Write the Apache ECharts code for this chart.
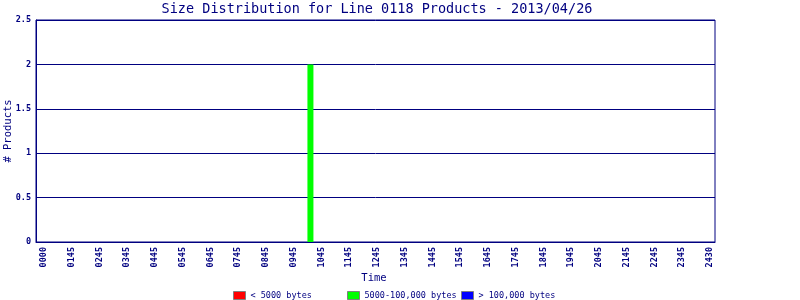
<!DOCTYPE html>
<html><head><meta charset="utf-8">
<script src="https://cdn.jsdelivr.net/npm/echarts@6/dist/echarts.min.js"></script>
<style>html,body{margin:0;padding:0;background:#fff}#c{width:800px;height:300px}</style>
</head><body><div id="c"></div>
<script>
const titleText = 'Size Distribution for Line 0118 Products - 2013/04/26';
const xAxisName = 'Time';
const yAxisName = '# Products';
const timeLabels = ['0000','0145','0245','0345','0445','0545','0645','0745','0845','0945','1045','1145','1245','1345','1445','1545','1645','1745','1845','1945','2045','2145','2245','2345','2430'];
const seriesNames = ['< 5000 bytes', '5000-100,000 bytes', '> 100,000 bytes'];
const barSlots = [9.6];
const smallCounts = [0];
const mediumCounts = [2];
const largeCounts = [0];
const yMax = 2.5;
const yStep = 0.5;

const NAVY = '#000080';
const MONO = 'DejaVu Sans Mono';
const colors = ['#ff0000', '#00ff00', '#0000ff'];
const counts = [smallCounts, mediumCounts, largeCounts];

const chart = echarts.init(document.getElementById('c'), null, {renderer: 'canvas'});
chart.setOption({
  animation: false,
  backgroundColor: '#fff',
  title: {
    text: titleText, left: 377, textAlign: 'center', top: 2, padding: 0,
    textStyle: {color: NAVY, fontFamily: MONO, fontSize: 13.5, fontWeight: 'normal'}
  },
  legend: seriesNames.map((n, i) => ({
    data: [n], left: 233 + 114 * i, top: 291, itemWidth: 12, itemHeight: 8, itemGap: 0,
    padding: 0, icon: 'rect',
    textStyle: {color: NAVY, fontFamily: MONO, fontSize: 8.5},
    itemStyle: {borderColor: '#808080', borderWidth: 1}
  })),
  graphic: [
    {type: 'text', x: 374, y: 278, style: {text: xAxisName, fill: NAVY, font: '10.5px "DejaVu Sans Mono"', textAlign: 'center', textVerticalAlign: 'middle'}},
    {type: 'text', x: 8, y: 131, rotation: Math.PI / 2, style: {text: yAxisName, fill: NAVY, font: '10.5px "DejaVu Sans Mono"', textAlign: 'center', textVerticalAlign: 'middle'}}
  ],
  grid: {left: 36, right: 85, top: 20, bottom: 58, show: true, borderColor: NAVY, borderWidth: 1,
         containLabel: false, outerBoundsMode: 'none'},
  xAxis: {
    type: 'value', min: -0.29, max: 24.18,
    axisLine: {show: true, onZero: false, lineStyle: {color: NAVY, width: 1}},
    axisTick: {show: false},
    splitLine: {show: false},
    axisLabel: {
      customValues: timeLabels.map((_, i) => i),
      formatter: v => timeLabels[Math.round(v)],
      rotate: 90, color: NAVY, fontFamily: MONO, fontSize: 8.5, fontWeight: 'bold', margin: 5
    }
  },
  yAxis: {
    type: 'value', min: 0, max: yMax, interval: yStep,
    axisLine: {show: true, onZero: false, lineStyle: {color: NAVY, width: 1}},
    axisTick: {show: false},
    splitLine: {show: true, lineStyle: {color: NAVY, width: 1}},
    axisLabel: {color: NAVY, fontFamily: MONO, fontSize: 8.5, fontWeight: 'bold', margin: 5}
  },
  series: seriesNames.map((n, k) => ({
    name: n, type: 'bar', stack: 'total', barWidth: 6,
    itemStyle: {color: colors[k]},
    data: barSlots.map((s, i) => [s, counts[k][i]])
  }))
});
</script></body></html>
